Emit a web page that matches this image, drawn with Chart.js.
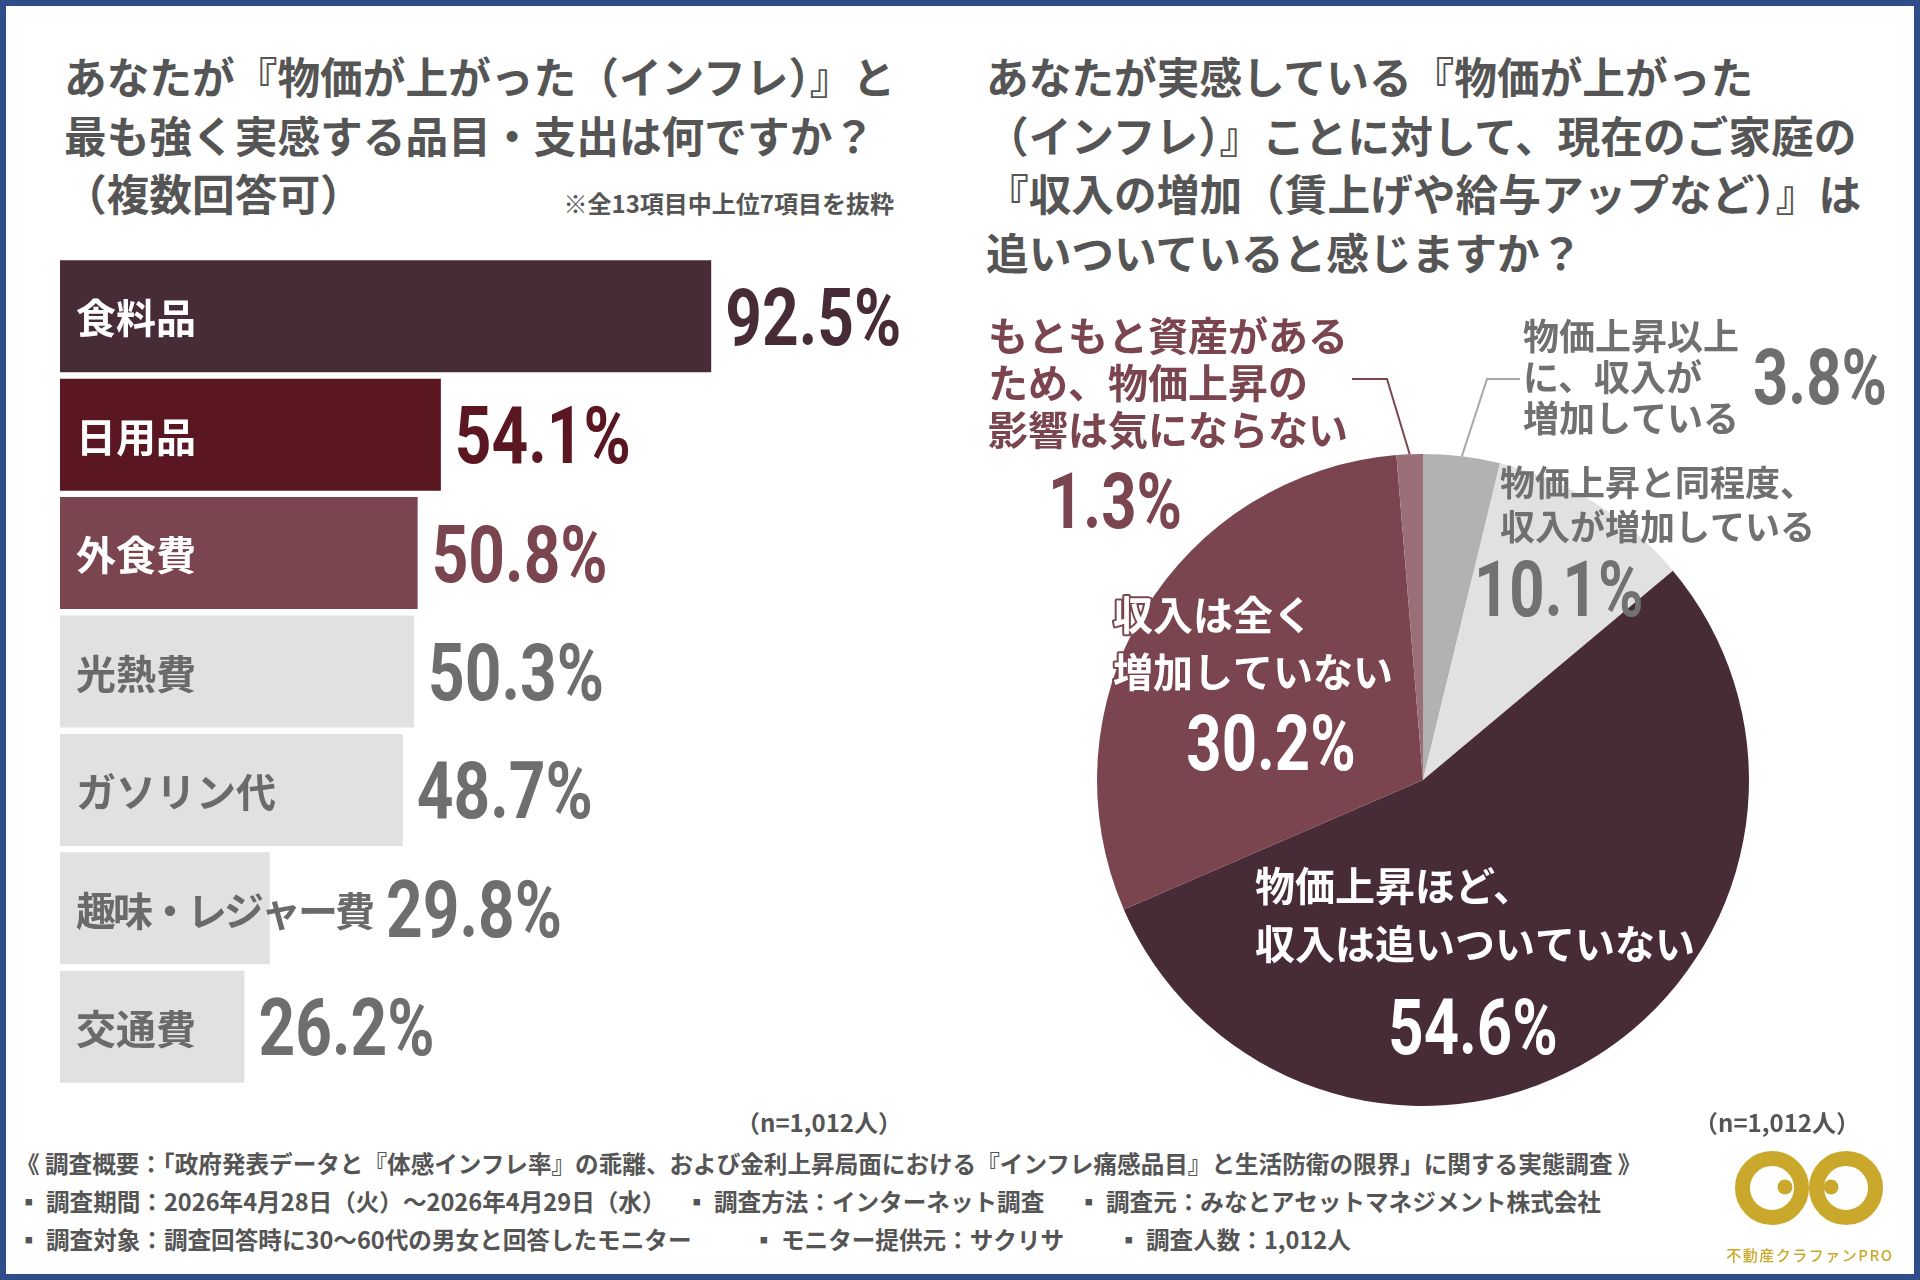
<!DOCTYPE html>
<html lang="ja">
<head>
<meta charset="utf-8">
<title>物価上昇の実感と収入</title>
<script src="https://cdn.jsdelivr.net/npm/chart.js@4.4.1/dist/chart.umd.min.js"></script>
<style>
    html, body { margin: 0; padding: 0; background: #fff; }
    body {
        width: 1920px; height: 1280px; position: relative; overflow: hidden;
        font-family: "Noto Sans CJK JP", "Noto Sans", sans-serif; font-weight: 700; color: #555;
    }
    .frame {
        position: absolute; left: 0; top: 0; width: 1920px; height: 1280px;
        box-sizing: border-box; border: 6px solid #2f4d8a; pointer-events: none;
    }
    .title { position: absolute; top: 46px; font-size: 42.7px; line-height: 58.5px; white-space: nowrap; color: #555; }
    .note { position: absolute; font-size: 24px; line-height: 30px; white-space: nowrap; color: #555; }
    .foot { position: absolute; font-size: 23.6px; line-height: 30px; white-space: nowrap; color: #555; }
    #barChart { position: absolute; left: 60px; top: 257px; }
    #pieChart { position: absolute; left: 960px; top: 300px; }
    .logo { position: absolute; left: 1725px; top: 1140px; }
    .logo-text { position: absolute; left: 1700px; width: 220px; top: 1242px; text-align: center;
        font-size: 15px; line-height: 26px; letter-spacing: 1.5px; color: #c9a82c; font-weight: 500; }
</style>
</head>
<body>

<div class="title" style="left:64px;">あなたが『物価が上がった（インフレ）』と<br>最も強く実感する品目・支出は何ですか？<br>（複数回答可）</div>
<div class="note" style="right:1026px; top:188px;">※全13項目中上位7項目を抜粋</div>

<div class="title" style="left:986px;">あなたが実感している『物価が上がった<br>（インフレ）』ことに対して、現在のご家庭の<br>『収入の増加（賃上げや給与アップなど）』は<br>追いついていると感じますか？</div>

<canvas id="barChart" width="900" height="829"></canvas>
<canvas id="pieChart" width="950" height="830"></canvas>

<div class="note" style="left:819px; top:1107px; transform:translateX(-50%);">（n=1,012人）</div>
<div class="note" style="left:1777px; top:1107px; transform:translateX(-50%);">（n=1,012人）</div>

<div class="foot" style="left:16px; top:1148px;">《 調査概要：「政府発表データと『体感インフレ率』の乖離、および金利上昇局面における『インフレ痛感品目』と生活防衛の限界」に関する実態調査 》</div>
<div class="foot" style="left:17px; top:1186px;">▪ 調査期間：2026年4月28日（火）～2026年4月29日（水）</div>
<div class="foot" style="left:685px; top:1186px;">▪ 調査方法：インターネット調査</div>
<div class="foot" style="left:1077px; top:1186px;">▪ 調査元：みなとアセットマネジメント株式会社</div>
<div class="foot" style="left:17px; top:1224px;">▪ 調査対象：調査回答時に30～60代の男女と回答したモニター</div>
<div class="foot" style="left:752px; top:1224px;">▪ モニター提供元：サクリサ</div>
<div class="foot" style="left:1117px; top:1224px;">▪ 調査人数：1,012人</div>

<svg class="logo" width="170" height="100" viewBox="0 0 170 100">
    <circle cx="47" cy="48" r="29.5" fill="none" stroke="#c9a82c" stroke-width="15"/>
    <circle cx="121" cy="48" r="29.5" fill="none" stroke="#c9a82c" stroke-width="15"/>
    <circle cx="60" cy="47" r="7.5" fill="#c9a82c"/>
    <circle cx="106" cy="47" r="7.5" fill="#c9a82c"/>
</svg>
<div class="logo-text">不動産クラファンPRO</div>

<div class="frame"></div>

<script>
// ─── DATOS ─────────────────────────────────────────────────────
const categories = ['食料品', '日用品', '外食費', '光熱費', 'ガソリン代', '趣味・レジャー費', '交通費'];
const rates = [92.5, 54.1, 50.8, 50.3, 48.7, 29.8, 26.2];

const pieCaptions = [
    ['物価上昇以上', 'に、収入が', '増加している'],
    ['物価上昇と同程度、', '収入が増加している'],
    ['物価上昇ほど、', '収入は追いついていない'],
    ['収入は全く', '増加していない'],
    ['もともと資産がある', 'ため、物価上昇の', '影響は気にならない']
];
const pieValues = [3.8, 10.1, 54.6, 30.2, 1.3];

// ─── ESTILO ────────────────────────────────────────────────────
const barColors = ['#472b36', '#5a1621', '#7b4550', '#e1e1e1', '#e1e1e1', '#e1e1e1', '#e1e1e1'];
const barTextColors = ['#fff', '#fff', '#fff', '#6a6a6a', '#6a6a6a', '#6a6a6a', '#6a6a6a'];
const barValueColors = ['#472b36', '#5a1621', '#7b4550', '#6e6e6e', '#6e6e6e', '#6e6e6e', '#6e6e6e'];
const pieColors = ['#b2b2b2', '#e1e1e1', '#472b36', '#7b4550', '#9b6f77'];

const NUM_FONT = 'Roboto, "DejaVu Sans Condensed", sans-serif';
const JP_FONT = '"Noto Sans CJK JP", sans-serif';
const NUM_SCALE = 0.8;

// posiciones de los textos del pie, relativas al centro
const pieLayout = [
    { dx: 100, dy: -444, pitch: 41, size: 36, color: '#707070', vx: 330, vy: -404, valign: 'left', vcolor: '#6e6e6e',
      leader: { color: '#a8a8a8', elbow: [64, -401], end: [97, -401] } },
    { dx: 77, dy: -297, pitch: 44, size: 35, color: '#707070', vx: 51, vy: -192, valign: 'left', vcolor: '#717171' },
    { dx: -168, dy: 106, pitch: 58, size: 40, color: '#fff', vx: 50, vy: 246, valign: 'center', vcolor: '#fff' },
    { dx: -310, dy: -165, pitch: 57, size: 40, color: '#fff', vx: -152, vy: -38, valign: 'center', vcolor: '#fff',
      outline: '#7b4550' },
    { dx: -435, dy: -444, pitch: 47, size: 40, color: '#7b4550', vx: -375, vy: -280, valign: 'left', vcolor: '#7b4550',
      leader: { color: '#7b4550', elbow: [-36, -401], end: [-71, -401] } }
];

function drawNumber(ctx, text, x, y, size, color, align) {
    ctx.save();
    ctx.font = `bold ${size}px ${NUM_FONT}`;
    const asc = ctx.measureText('0').actualBoundingBoxAscent;
    const w = ctx.measureText(text).width * NUM_SCALE;
    const left = align === 'center' ? x - w / 2 : x;
    ctx.translate(left, y + asc / 2);
    ctx.scale(NUM_SCALE, 1);
    ctx.fillStyle = color;
    ctx.textAlign = 'left';
    ctx.textBaseline = 'alphabetic';
    ctx.fillText(text, 0, 0);
    ctx.restore();
}

// ─── BARRAS ────────────────────────────────────────────────────
const barLabelPlugin = {
    id: 'barLabels',
    afterDatasetsDraw(chart) {
        const ctx = chart.ctx;
        const meta = chart.getDatasetMeta(0);
        meta.data.forEach((bar, i) => {
            const left = bar.base;
            ctx.save();
            ctx.font = `bold 40px ${JP_FONT}`;
            // etiqueta que sobresale de la barra: un poco más apretada
            if (left + 16 + ctx.measureText(categories[i]).width > bar.x) ctx.letterSpacing = '-3px';
            ctx.fillStyle = barTextColors[i];
            ctx.textAlign = 'left';
            ctx.textBaseline = 'middle';
            ctx.fillText(categories[i], left + 16, bar.y + 2);
            const labelRight = left + 16 + ctx.measureText(categories[i]).width;
            ctx.restore();
            const vx = Math.max(bar.x, labelRight) + 14;
            drawNumber(ctx, rates[i].toFixed(1) + '%', vx, bar.y, 80, barValueColors[i], 'left');
        });
    }
};

new Chart(document.getElementById('barChart'), {
    type: 'bar',
    data: {
        labels: categories,
        datasets: [{
            data: rates,
            backgroundColor: barColors,
            borderWidth: 0,
            barPercentage: 0.946,
            categoryPercentage: 1.0
        }]
    },
    options: {
        indexAxis: 'y',
        responsive: false,
        animation: false,
        devicePixelRatio: 1,
        layout: { padding: { left: 0, right: 196, top: 0, bottom: 0 } },
        scales: {
            x: { display: false, min: 0, max: 100 },
            y: { display: false }
        },
        plugins: { legend: { display: false }, tooltip: { enabled: false } }
    },
    plugins: [barLabelPlugin]
});

// ─── TORTA ─────────────────────────────────────────────────────
const pieLabelPlugin = {
    id: 'pieLabels',
    afterDatasetsDraw(chart) {
        const ctx = chart.ctx;
        const meta = chart.getDatasetMeta(0);
        meta.data.forEach((arc, i) => {
            const L = pieLayout[i];
            const cx = arc.x, cy = arc.y;

            if (L.leader) {
                const a = (arc.startAngle + arc.endAngle) / 2;
                ctx.save();
                ctx.strokeStyle = L.leader.color;
                ctx.lineWidth = 2;
                ctx.beginPath();
                ctx.moveTo(cx + arc.outerRadius * Math.cos(a), cy + arc.outerRadius * Math.sin(a));
                ctx.lineTo(cx + L.leader.elbow[0], cy + L.leader.elbow[1]);
                ctx.lineTo(cx + L.leader.end[0], cy + L.leader.end[1]);
                ctx.stroke();
                ctx.restore();
            }

            ctx.save();
            ctx.font = `bold ${L.size}px ${JP_FONT}`;
            ctx.textAlign = 'left';
            ctx.textBaseline = 'middle';
            ctx.lineJoin = 'round';
            pieCaptions[i].forEach((line, k) => {
                const tx = cx + L.dx, ty = cy + L.dy + k * L.pitch;
                if (L.outline) {
                    ctx.strokeStyle = L.outline;
                    ctx.lineWidth = 4;
                    ctx.strokeText(line, tx, ty);
                }
                ctx.fillStyle = L.color;
                ctx.fillText(line, tx, ty);
            });
            ctx.restore();

            drawNumber(ctx, pieValues[i].toFixed(1) + '%', cx + L.vx, cy + L.vy, 77, L.vcolor, L.valign);
        });
    }
};

new Chart(document.getElementById('pieChart'), {
    type: 'pie',
    data: {
        labels: pieCaptions.map(c => c.join('')),
        datasets: [{
            data: pieValues,
            backgroundColor: pieColors,
            borderWidth: 0,
            hoverOffset: 0,
            offset: 0
        }]
    },
    options: {
        responsive: false,
        animation: false,
        devicePixelRatio: 1,
        layout: { padding: { left: 137, right: 161, top: 154, bottom: 24 } },
        plugins: { legend: { display: false }, tooltip: { enabled: false } }
    },
    plugins: [pieLabelPlugin]
});
</script>
</body>
</html>
